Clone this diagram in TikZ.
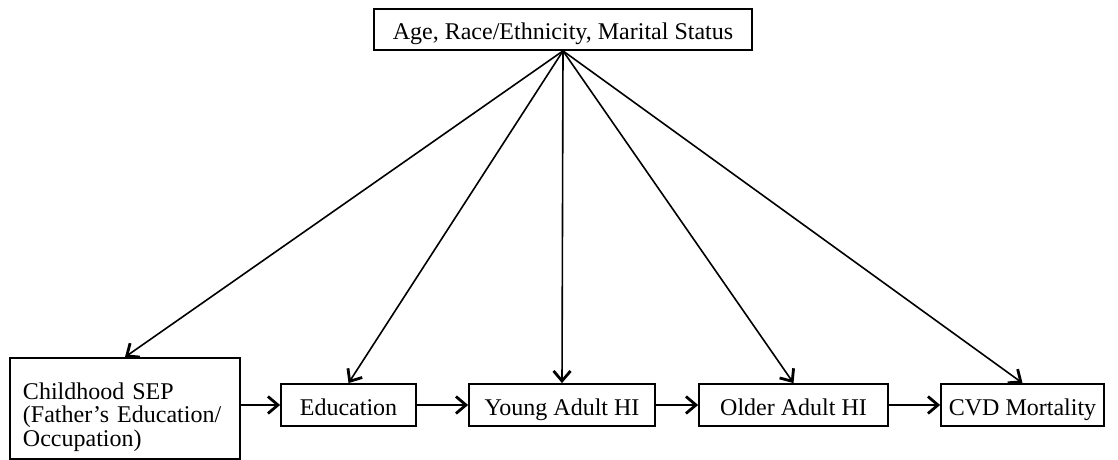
\documentclass[tikz,border=0pt]{standalone}
\usepackage{fontspec}
\setmainfont{Liberation Serif}
\usetikzlibrary{arrows.meta}
\begin{document}
\begin{tikzpicture}[x=1pt,y=-1pt,
  box/.style={draw=black, line width=1.8pt, minimum height=42pt, inner sep=0pt,
    text height=21pt, text depth=1pt,
    font=\fontsize{24}{23}\selectfont},
  multibox/.style={draw=black, line width=1.8pt, inner sep=0pt,
    font=\fontsize{24}{23.5}\selectfont},
  conn/.style={line width=1.6pt, -{Straight Barb[length=10pt,width=17pt,line width=2.8pt]}}]
\useasboundingbox (0,0) rectangle (1118,460);
\node[box, minimum width=378pt, minimum height=41pt] (top) at (563,29.5) {Age, Race/Ethnicity, Marital Status};
\node[multibox, minimum width=230pt, minimum height=101pt, align=left, text width=204pt] (sep) at (125,408.5)
  {\rule{0pt}{34pt}Childhood SEP\\(Father’s Education/\\Occupation)};
\node[box, minimum width=135pt] (edu) at (348.5,405) {Education};
\node[box, minimum width=186pt] (yah) at (562,405) {Young Adult HI};
\node[box, minimum width=189pt] (oah) at (793.5,405) {Older Adult HI};
\node[box, minimum width=163pt] (cvd) at (1022.5,405) {CVD Mortality};
\foreach \t in {sep,edu,yah,oah,cvd} \draw[conn] (top.south) -- (\t.north);
\draw[conn] (sep.east |- edu.west) -- (edu.west);
\draw[conn] (edu) -- (yah);
\draw[conn] (yah) -- (oah);
\draw[conn] (oah) -- (cvd);
\end{tikzpicture}
\end{document}
